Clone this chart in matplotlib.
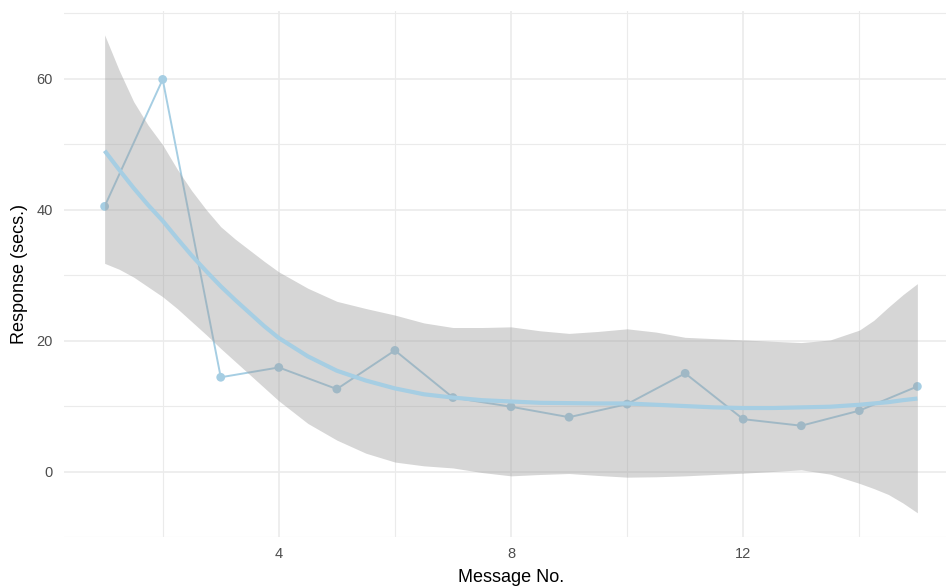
import numpy as np
from matplotlib import pyplot as plt
from matplotlib.ticker import MultipleLocator

plt.rcParams['font.family'] = ['Liberation Sans', 'DejaVu Sans']

# observed response times
msg_no = [1, 2, 3, 4, 5, 6, 7, 8, 9, 10, 11, 12, 13, 14, 15]
response = [40.5, 59.9, 14.4, 15.9, 12.6, 18.5, 11.3, 9.9, 8.3, 10.3, 15.0, 8.0, 7.0, 9.3, 13.0]

# loess fit + 95% band
fit_x = [1, 1.25, 1.5, 1.75, 2, 2.25, 2.5, 2.75, 3, 3.25, 3.5, 3.75, 4,
         4.5, 5, 5.5, 6, 6.5, 7, 7.5, 8, 8.5, 9, 9.5, 10, 10.5, 11, 11.5, 12, 12.5, 13, 13.5,
         14, 14.25, 14.5, 14.75, 15]
fit_y = [49.0, 46.1, 43.3, 40.7, 38.3, 35.6, 33.0, 30.6, 28.3, 26.2, 24.2, 22.2, 20.4,
         17.6, 15.4, 13.9, 12.7, 11.8, 11.3, 10.9, 10.7, 10.5, 10.45, 10.4, 10.4, 10.2, 10.0,
         9.8, 9.7, 9.7, 9.8, 9.9, 10.2, 10.4, 10.6, 10.9, 11.15]
fit_hi = [66.7, 61.3, 56.5, 52.9, 49.9, 46.2, 42.9, 40.0, 37.4, 35.5, 33.8, 32.1, 30.5,
          28.0, 26.0, 24.9, 23.9, 22.7, 22.0, 22.0, 22.1, 21.5, 21.1, 21.4, 21.8, 21.3, 20.5,
          20.3, 20.1, 19.9, 19.7, 20.1, 21.6, 23.1, 25.1, 27.0, 28.7]
fit_lo = [31.8, 30.9, 29.7, 28.2, 26.7, 24.9, 22.9, 20.9, 18.8, 16.8, 14.8, 12.8, 10.8,
          7.35, 4.8, 2.8, 1.45, 0.87, 0.55, -0.15, -0.66, -0.45, -0.3, -0.6, -0.86, -0.8, -0.66,
          -0.45, -0.25, 0.0, 0.26, -0.4, -1.8, -2.6, -3.5, -4.8, -6.3]

blue = "#a6cee3"

fig = plt.figure(figsize=(9.46, 5.87), dpi=100)
ax = fig.add_axes([64 / 946, 50 / 587, 894 / 946, 526 / 587])

ax.plot(msg_no, response, color=blue, lw=1.4, zorder=2)
ax.scatter(msg_no, response, color=blue, s=40, zorder=3, edgecolors='none')
ax.fill_between(fit_x, fit_lo, fit_hi, color="#999999", alpha=0.4, lw=0, zorder=4)
ax.plot(fit_x, fit_y, color=blue, lw=3, solid_capstyle='butt', solid_joinstyle='round', zorder=5)

ax.set_xlim(0.3, 15.7)
ax.set_ylim(-10.0, 70.35)
ax.xaxis.set_major_locator(MultipleLocator(4))
ax.xaxis.set_minor_locator(MultipleLocator(2))
ax.yaxis.set_major_locator(MultipleLocator(20))
ax.yaxis.set_minor_locator(MultipleLocator(10))
ax.set_xticks([4, 8, 12])

ax.grid(which='major', color="#ebebeb", lw=1.2)
ax.grid(which='minor', color="#ebebeb", lw=0.8)
ax.set_axisbelow(True)
for s in ax.spines.values():
    s.set_visible(False)
ax.tick_params(which='both', length=0, labelsize=10.5, labelcolor="#4d4d4d")
ax.tick_params(axis='x', pad=7)
ax.tick_params(axis='y', pad=8)

ax.set_xlabel("Message No.", fontsize=13, labelpad=6)
ax.set_ylabel("Response (secs.)", fontsize=13, labelpad=6)

plt.savefig("out.png", dpi=100)
